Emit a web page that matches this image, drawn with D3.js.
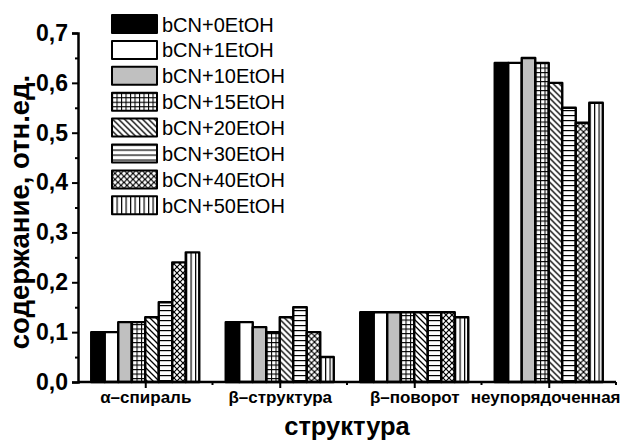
<!DOCTYPE html>
<html>
<head>
<meta charset="utf-8">
<script src="https://cdn.jsdelivr.net/npm/d3@7"></script>
<style>
  html, body { margin: 0; padding: 0; background: #fff; }
  svg { display: block; font-family: "Liberation Sans", Arial, sans-serif; }
</style>
</head>
<body>
<svg id="chart" width="624" height="443"></svg>
<script>
// Secondary structure groups (x axis)
const categories = ["α–спираль", "β–структура", "β–поворот", "неупорядоченная"];
// Samples (one bar per sample inside each group)
const seriesNames = ["bCN+0EtOH", "bCN+1EtOH", "bCN+10EtOH", "bCN+15EtOH",
                     "bCN+20EtOH", "bCN+30EtOH", "bCN+40EtOH", "bCN+50EtOH"];
// Content values, rows follow seriesNames, columns follow categories
const s0EtOH  = [0.10, 0.12, 0.14, 0.64];
const s1EtOH  = [0.10, 0.12, 0.14, 0.64];
const s10EtOH = [0.12, 0.11, 0.14, 0.65];
const s15EtOH = [0.12, 0.10, 0.14, 0.64];
const s20EtOH = [0.13, 0.13, 0.14, 0.60];
const s30EtOH = [0.16, 0.15, 0.14, 0.55];
const s40EtOH = [0.24, 0.10, 0.14, 0.52];
const s50EtOH = [0.26, 0.05, 0.13, 0.56];
const yTicks = [0, 0.1, 0.2, 0.3, 0.4, 0.5, 0.6, 0.7];

const seriesValues = [s0EtOH, s1EtOH, s10EtOH, s15EtOH, s20EtOH, s30EtOH, s40EtOH, s50EtOH];
const fillIds = ["solidBlack", "solidWhite", "solidGrey", "grid", "diag", "hlines", "cross", "vlines"];

const svg = d3.select("#chart");
const W = 624;
const plotLeft = 78, plotRight = 616, plotTop = 33, plotBottom = 382;

// Hatch patterns
const defs = svg.append("defs");
function pattern(id, size, draw) {
  const p = defs.append("pattern").attr("id", id)
    .attr("patternUnits", "userSpaceOnUse")
    .attr("width", size).attr("height", size);
  p.append("rect").attr("width", size).attr("height", size).attr("fill", "#fff");
  draw(p, size);
}
pattern("grid", 4.5, (p, s) => {
  p.append("path").attr("d", `M0,0.5H${s}M0.5,0V${s}`).attr("stroke", "#000").attr("stroke-width", 1.1);
});
pattern("diag", 6, (p, s) => {
  p.append("path").attr("d", `M0,0L${s},${s}M${-s},0L${s},${2 * s}M0,${-s}L${2 * s},${s}`)
    .attr("stroke", "#000").attr("stroke-width", 1.3);
});
pattern("hlines", 5, (p, s) => {
  p.append("path").attr("d", `M0,0.6H${s}`).attr("stroke", "#000").attr("stroke-width", 1.2);
});
pattern("cross", 6, (p, s) => {
  p.append("path").attr("d", `M0,0L${s},${s}M${s},0L0,${s}`).attr("stroke", "#000").attr("stroke-width", 1.2);
});
pattern("vlines", 4.5, (p, s) => {
  p.append("path").attr("d", `M0.6,0V${s}`).attr("stroke", "#000").attr("stroke-width", 1.2);
});
const fillOf = id => ({ solidBlack: "#000", solidWhite: "#fff", solidGrey: "#c0c0c0" }[id] || `url(#${id})`);

// Scales
const x0 = d3.scaleBand().domain(categories).range([plotLeft, plotRight]).padding(0);
const x1 = d3.scaleBand().domain(seriesNames).range([0, x0.bandwidth()])
  .paddingInner(0).paddingOuter(0.98);
const y = d3.scaleLinear().domain([0, 0.7]).range([plotBottom, plotTop]);

// Bars
const groups = svg.append("g").selectAll("g").data(categories).join("g")
  .attr("transform", c => `translate(${x0(c)},0)`);
groups.selectAll("rect")
  .data((c, ci) => seriesNames.map((s, si) => ({ s, si, v: seriesValues[si][ci] })))
  .join("rect")
  .attr("x", d => x1(d.s))
  .attr("y", d => y(d.v))
  .attr("width", x1.bandwidth())
  .attr("height", d => y(0) - y(d.v))
  .attr("fill", d => fillOf(fillIds[d.si]))
  .attr("stroke", "#000")
  .attr("stroke-width", 2.4)
  .attr("stroke-linejoin", "round");

// Y axis: major ticks with labels, minor ticks in between
const yAxis = svg.append("g").attr("transform", `translate(${plotLeft},0)`)
  .call(d3.axisLeft(y).tickValues(yTicks).tickSize(6).tickPadding(4)
    .tickFormat(d => d3.format(".1f")(d).replace(".", ",")));
svg.append("g").attr("transform", `translate(${plotLeft},0)`)
  .call(d3.axisLeft(y).tickValues(d3.range(0.05, 0.7, 0.1)).tickSize(3).tickFormat(""))
  .call(g => g.select(".domain").remove());
yAxis.selectAll("text").attr("font-size", 23).attr("font-weight", "bold")
  .attr("font-family", "Liberation Sans, Arial, sans-serif").attr("fill", "#000");

// X axis: major ticks at group centres, minor ticks at group borders
const centerScale = d3.scalePoint().domain(categories)
  .range([x0(categories[0]) + x0.bandwidth() / 2, x0(categories[3]) + x0.bandwidth() / 2]);
const xAxis = svg.append("g").attr("transform", `translate(0,${plotBottom})`)
  .call(d3.axisBottom(centerScale).tickSize(6).tickPadding(6));
xAxis.select(".domain").attr("d", `M${plotLeft},0H${plotRight}`);
const borders = categories.map(c => x0(c) + x0.bandwidth());
svg.append("g").attr("transform", `translate(0,${plotBottom})`)
  .selectAll("line").data(borders).join("line")
  .attr("x1", d => d).attr("x2", d => d).attr("y1", 0).attr("y2", 3)
  .attr("stroke", "#000").attr("stroke-width", 2);
xAxis.selectAll("text").attr("font-size", 17).attr("font-weight", "bold")
  .attr("font-family", "Liberation Sans, Arial, sans-serif").attr("fill", "#000")
  .attr("dy", null).attr("y", 21);
// keep the rightmost label inside the page
xAxis.selectAll(".tick").each(function (c) {
  const t = d3.select(this).select("text");
  const half = t.node().getComputedTextLength() / 2;
  const cx = centerScale(c);
  const overflow = cx + half - (W - 4);
  if (overflow > 0) t.attr("dx", -overflow);
});

svg.selectAll(".domain").attr("stroke-width", 2.5).attr("stroke", "#000");
svg.selectAll(".tick line").attr("stroke-width", 2).attr("stroke", "#000");

// Axis titles
svg.append("text")
  .attr("x", (plotLeft + plotRight) / 2).attr("y", 435)
  .attr("text-anchor", "middle").attr("font-size", 25.5).attr("font-weight", "bold")
  .text("структура");
svg.append("text")
  .attr("transform", `translate(29,212) rotate(-90)`)
  .attr("text-anchor", "middle").attr("font-size", 27.5).attr("font-weight", "bold")
  .text("содержание, отн.ед.");

// Legend
const legend = svg.append("g").attr("transform", "translate(112,15)");
const rowH = 25.9;
const item = legend.selectAll("g").data(seriesNames).join("g")
  .attr("transform", (d, i) => `translate(0,${i * rowH})`);
item.append("rect")
  .attr("width", 45).attr("height", 18)
  .attr("fill", (d, i) => fillOf(fillIds[i]))
  .attr("stroke", "#000").attr("stroke-width", 2).attr("stroke-linejoin", "round");
item.append("text")
  .attr("x", 50).attr("y", 16.5)
  .attr("font-size", 20)
  .text(d => d);
</script>
</body>
</html>
